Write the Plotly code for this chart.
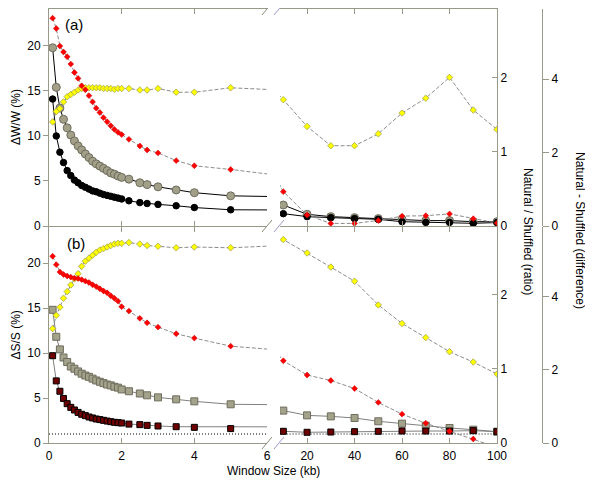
import plotly.graph_objects as go

# ---------------- data ----------------
WINDOW_KB = [0.1, 0.2, 0.3, 0.4, 0.5, 0.6, 0.7, 0.8, 0.9, 1.0,
             1.1, 1.2, 1.3, 1.4, 1.5, 1.6, 1.7, 1.8, 1.9, 2.0,
             2.2, 2.5, 2.7, 3.0, 3.5, 4.0, 5.0,
             10, 20, 30, 40, 50, 60, 70, 80, 90, 100]

# panel (a)  dW/W (%)
W_NATURAL = [19.8, 15.4, 13.1, 11.85, 10.9, 10.1, 9.45, 8.9, 8.45, 8.0,
             7.6, 7.2, 6.9, 6.65, 6.4, 6.15, 5.9, 5.75, 5.55, 5.4,
             5.2, 4.8, 4.6, 4.35, 4.0, 3.7, 3.35,
             2.33, 1.30, 1.04, 0.93, 0.82, 0.74, 0.60, 0.60, 0.48, 0.48]
W_SHUFFLED = [14.1, 10.0, 8.2, 7.05, 6.15, 5.6, 5.1, 4.8, 4.5, 4.3,
              4.1, 3.9, 3.8, 3.65, 3.5, 3.4, 3.3, 3.2, 3.1, 3.0,
              2.8, 2.6, 2.5, 2.4, 2.25, 2.05, 1.8,
              1.37, 1.04, 0.93, 0.82, 0.74, 0.48, 0.40, 0.40, 0.30, 0.38]
W_RATIO = [1.40, 1.54, 1.58, 1.67, 1.74, 1.77, 1.80, 1.83, 1.85, 1.86,
           1.86, 1.86, 1.86, 1.86, 1.85, 1.85, 1.85, 1.84, 1.85, 1.85,
           1.85, 1.83, 1.83, 1.85, 1.80, 1.80, 1.86,
           1.70, 1.34, 1.08, 1.08, 1.24, 1.52, 1.72, 2.00, 1.56, 1.30]
W_DIFF = [5.66, 5.38, 4.90, 4.74, 4.61, 4.41, 4.18, 4.02, 3.82, 3.71,
          3.55, 3.38, 3.21, 3.09, 2.95, 2.84, 2.73, 2.63, 2.55, 2.49,
          2.36, 2.18, 2.07, 1.99, 1.78, 1.64, 1.54,
          0.935, 0.30, 0.07, 0.07, 0.15, 0.27, 0.28, 0.33, 0.20, 0.08]

# panel (b)  dS/S (%)
S_NATURAL = [14.8, 11.8, 10.4, 9.5, 9.0, 8.5, 8.25, 7.95, 7.7, 7.5,
             7.35, 7.15, 6.95, 6.8, 6.65, 6.5, 6.4, 6.25, 6.15, 5.95,
             5.75, 5.5, 5.3, 5.07, 4.85, 4.63, 4.3,
             3.6, 3.07, 2.96, 2.78, 2.41, 2.15, 1.93, 1.67, 1.48, 1.26]
S_SHUFFLED = [9.7, 6.9, 5.75, 4.95, 4.37, 3.96, 3.67, 3.4, 3.19, 3.04,
              2.89, 2.78, 2.67, 2.6, 2.52, 2.44, 2.37, 2.3, 2.26, 2.22,
              2.1, 2.04, 1.96, 1.89, 1.81, 1.74, 1.6,
              1.3, 1.19, 1.22, 1.26, 1.3, 1.33, 1.33, 1.33, 1.37, 1.26]
S_RATIO = [1.54, 1.72, 1.83, 1.95, 2.04, 2.13, 2.21, 2.28, 2.38, 2.45,
           2.49, 2.53, 2.57, 2.60, 2.62, 2.64, 2.66, 2.68, 2.69, 2.69,
           2.70, 2.68, 2.66, 2.65, 2.63, 2.64, 2.63,
           2.74, 2.56, 2.37, 2.18, 1.86, 1.61, 1.42, 1.23, 1.09, 0.93]
S_DIFF = [5.11, 4.88, 4.68, 4.61, 4.57, 4.54, 4.51, 4.50, 4.47, 4.43,
          4.39, 4.33, 4.28, 4.22, 4.16, 4.11, 4.03, 3.96, 3.88, 3.73,
          3.61, 3.41, 3.29, 3.17, 2.99, 2.87, 2.65,
          2.25, 1.86, 1.71, 1.49, 1.11, 0.79, 0.54, 0.32, 0.11, -0.12]

REF_LEVEL_X = [0, 100]
REF_LEVEL_Y = [1.0, 1.0]

X_TICKS_LEFT = [0, 2, 4, 6]
X_TICKS_RIGHT = [20, 40, 60, 80, 100]
Y_TICKS_PCT = [0, 5, 10, 15, 20]
Y_TICKS_RATIO = [0, 1, 2]
Y_TICKS_DIFF = [0, 2, 4]

# ---------------- layout geometry (pixels) ----------------
# The page body adds an 8px offset; the figure is sized/margined to compensate.
OFF = 8
W, H = 593 - OFF, 483 - OFF
L, R, T, B = 49 - OFF, 51, 9 - OFF, 40
PW, PH = W - L - R, H - T - B


def px(x):  # reference-image pixel -> paper fraction
    return (x - 49) / PW


def py(y):
    return (443 - y) / PH


D1 = px(267)
D2 = px(280)
D3 = px(497)

AX = '#99998a'
FONT = dict(family='Liberation Sans, Arial, sans-serif', size=12, color='black')

fig = go.Figure()

DASH = dict(color='#8c8c8c', width=1, dash='4px,2px')

styles = {
    'nat_a': dict(mode='lines+markers', line=dict(color='black', width=1),
                  marker=dict(symbol='circle', size=8, color='#a3a08a',
                              line=dict(color='#6e6c5c', width=1))),
    'shuf_a': dict(mode='lines+markers', line=dict(color='black', width=1),
                   marker=dict(symbol='circle', size=6.5, color='black',
                               line=dict(color='black', width=1))),
    'ratio': dict(mode='lines+markers', line=DASH,
                  marker=dict(symbol='diamond', size=5, color='#ffff00',
                              line=dict(color='#9a9a50', width=0.7))),
    'diff': dict(mode='lines+markers', line=DASH,
                 marker=dict(symbol='diamond', size=4.5, color='#ff0000',
                             line=dict(color='#cc0000', width=0.5))),
    'nat_b': dict(mode='lines+markers', line=dict(color='#808080', width=1),
                  marker=dict(symbol='square', size=7, color='#a3a28a',
                              line=dict(color='#6e6c5c', width=1))),
    'shuf_b': dict(mode='lines+markers', line=dict(color='#808080', width=1),
                   marker=dict(symbol='square', size=6, color='#700000',
                               line=dict(color='black', width=1))),
}


def add(xs, ys, style, xl, xr, yax):
    for xa in (xl, xr):
        fig.add_trace(go.Scatter(x=xs, y=ys, xaxis=xa, yaxis=yax,
                                 cliponaxis=True, hoverinfo='skip', **style))


# panel (b): x, x2 ; y (pct), y2 (ratio), y3 (diff)
for xa in ('x', 'x2'):
    fig.add_trace(go.Scatter(x=REF_LEVEL_X, y=REF_LEVEL_Y, xaxis=xa, yaxis='y', mode='lines',
                             line=dict(color='black', width=1, dash='1px,2px'),
                             hoverinfo='skip'))
add(WINDOW_KB, S_NATURAL, styles['nat_b'], 'x', 'x2', 'y')
add(WINDOW_KB, S_SHUFFLED, styles['shuf_b'], 'x', 'x2', 'y')
add(WINDOW_KB, S_RATIO, styles['ratio'], 'x', 'x2', 'y2')
add(WINDOW_KB, S_DIFF, styles['diff'], 'x', 'x2', 'y3')

# panel (a): x3, x4 ; y5 (pct), y6 (ratio), y7 (diff)
add(WINDOW_KB, W_NATURAL, styles['nat_a'], 'x3', 'x4', 'y5')
add(WINDOW_KB, W_SHUFFLED, styles['shuf_a'], 'x3', 'x4', 'y5')
add(WINDOW_KB, W_RATIO, styles['ratio'], 'x3', 'x4', 'y6')
add(WINDOW_KB, W_DIFF, styles['diff'], 'x3', 'x4', 'y7')

common_x = dict(showgrid=False, zeroline=False, showline=True, linecolor=AX, linewidth=1,
                mirror='ticks', ticks='inside', ticklen=5, tickcolor=AX, tickfont=FONT,
                fixedrange=True)
common_y = dict(showgrid=False, zeroline=False, showline=True, linecolor=AX, linewidth=1,
                tickcolor=AX, tickfont=FONT, fixedrange=True)

PA = [0.5, 1.0]
PB = [0.0, py(227)]

fig.update_layout(
    width=W, height=H,
    margin=dict(l=L, r=R, t=T, b=B, pad=0, autoexpand=False),
    paper_bgcolor='white', plot_bgcolor='white',
    showlegend=False, hovermode=False,
    font=FONT,
    xaxis=dict(domain=[0, D1], range=[0, 6], anchor='y', tickvals=X_TICKS_LEFT,
               ticktext=[str(v) for v in X_TICKS_LEFT], ticklabelstandoff=2, **common_x),
    xaxis2=dict(domain=[D2, D3], range=[8.6, 100], anchor='y', tickvals=X_TICKS_RIGHT,
                ticktext=[str(v) for v in X_TICKS_RIGHT], ticklabelstandoff=2, **common_x),
    xaxis3=dict(domain=[0, D1], range=[0, 6], anchor='y5', tickvals=X_TICKS_LEFT,
                showticklabels=False, **common_x),
    xaxis4=dict(domain=[D2, D3], range=[8.6, 100], anchor='y5', tickvals=X_TICKS_RIGHT,
                showticklabels=False, **common_x),
    yaxis=dict(domain=PB, range=[0, 24.0], anchor='x', tickvals=Y_TICKS_PCT,
               ticks='outside', ticklen=5, **common_y),
    yaxis2=dict(overlaying='y', side='right', anchor='x2', range=[0, 2.91],
                tickvals=Y_TICKS_RATIO, ticks='inside', ticklen=5, **common_y),
    yaxis3=dict(overlaying='y', side='right', anchor='free', position=1.0, range=[0, 5.91],
                tickvals=Y_TICKS_DIFF, ticks='outside', ticklen=6, **common_y),
    yaxis5=dict(domain=PA, range=[0, 24.1], anchor='x3', tickvals=Y_TICKS_PCT,
                ticks='outside', ticklen=5, **common_y),
    yaxis6=dict(overlaying='y5', side='right', anchor='x4', range=[0, 2.92],
                tickvals=Y_TICKS_RATIO, ticks='inside', ticklen=5, **common_y),
    yaxis7=dict(overlaying='y5', side='right', anchor='free', position=1.0, range=[0, 5.91],
                tickvals=Y_TICKS_DIFF, ticks='outside', ticklen=6, **common_y),
)

# axis titles and panel labels
ann = [
    dict(text='\u0394W/W (%)', x=px(15.5), y=py(117.5), textangle=-90),
    dict(text='\u0394S/S (%)', x=px(15.5), y=py(335), textangle=-90),
    dict(text='Window Size (kb)', x=px(273), y=py(471)),
    dict(text='Natural / Shuffled (ratio)', x=px(528), y=py(231), textangle=90),
    dict(text='Natural - Shuffled (difference)', x=px(580), y=py(230), textangle=90),
    dict(text='(a)', x=px(74), y=py(25), font=dict(size=15)),
    dict(text='(b)', x=px(76), y=py(243), font=dict(size=15)),
]
for a in ann:
    f = dict(FONT)
    f.update(a.pop('font', {}))
    fig.add_annotation(xref='paper', yref='paper', xanchor='center', yanchor='middle',
                       showarrow=False, font=f, **a)

# axis-break marks
for yb in (9, 226, 443):
    for x0, col in ((262, '#8a8a78'), (274, '#9a9ac8')):
        fig.add_shape(type='line', xref='paper', yref='paper', layer='above',
                      x0=px(x0), y0=py(yb + 6), x1=px(x0 + 10), y1=py(yb - 6),
                      line=dict(color=col, width=1))

fig.write_html('out.html')
